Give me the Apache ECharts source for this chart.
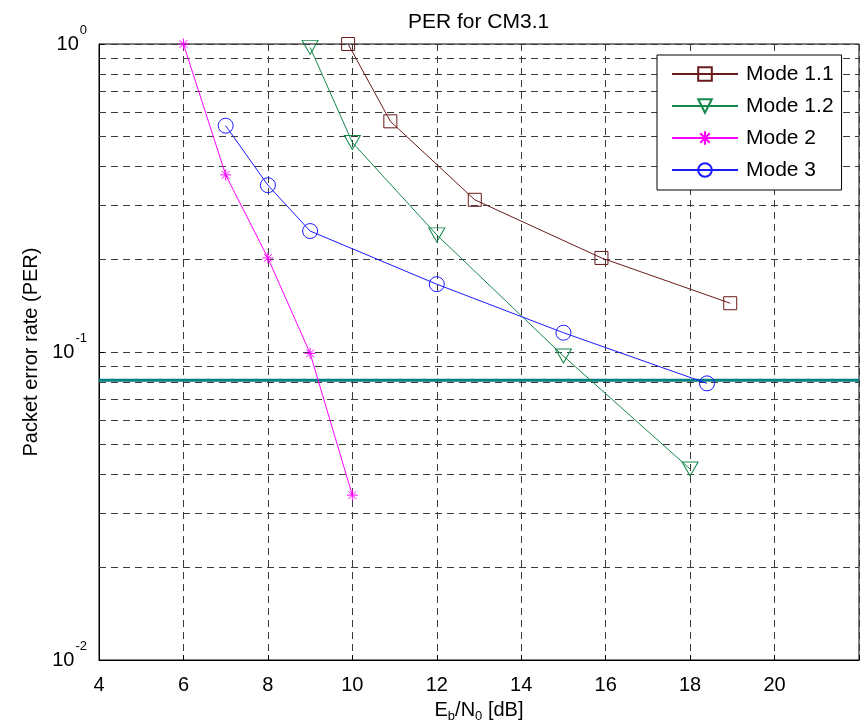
<!DOCTYPE html>
<html>
<head>
<meta charset="utf-8">
<script src="https://cdn.jsdelivr.net/npm/echarts@6/dist/echarts.min.js"></script>
<style>html,body{margin:0;padding:0;background:#fff}#c{width:860px;height:724px}</style>
</head>
<body>
<div id="c"></div>
<script>
// ---- data ----
const mode11X = [9.9, 10.9, 12.9, 15.9, 18.95];
const mode11Y = [1.0, 0.561, 0.312, 0.202, 0.144];
const mode12X = [9, 10, 12, 15, 18];
const mode12Y = [0.975, 0.479, 0.24, 0.097, 0.0417];
const mode2X = [6, 7, 8, 9, 10];
const mode2Y = [1.0, 0.376, 0.202, 0.099, 0.0343];
const mode3X = [7, 8, 9, 12, 15, 18.4];
const mode3Y = [0.543, 0.348, 0.247, 0.166, 0.1155, 0.0791];
const thresholdY = 0.081;
const xRange = [4, 22];
const minorGridY = [0.02,0.03,0.04,0.05,0.06,0.07,0.08,0.09,0.2,0.3,0.4,0.5,0.6,0.7,0.8,0.9];
const seriesNames = ['Mode 1.1', 'Mode 1.2', 'Mode 2', 'Mode 3'];

const FONT = 'Liberation Sans, Arial, sans-serif';
const GRIDCOL = '#3a3a3a';
function pts(xs, ys){ return xs.map((x,i)=>[x, ys[i]]); }

const chart = echarts.init(document.getElementById('c'), null, {renderer:'canvas'});
const star = 'path://M5,0L5,10M0,5L10,5M1.5,1.5L8.5,8.5M1.5,8.5L8.5,1.5';

function lineSeries(name, data, color, symbol, size, rotate){
  return {
    name, type:'line', data, symbol, symbolSize:size, symbolRotate: rotate||0,
    showAllSymbol:true, z:3,
    lineStyle:{color, width:1},
    itemStyle:{color:'rgba(0,0,0,0)', borderColor:color, borderWidth:1},
    emphasis:{disabled:true}
  };
}

const option = {
  animation:false,
  backgroundColor:'#fff',
  title:{text:'PER for CM3.1', left:403, top:7,
    textStyle:{fontFamily:FONT, fontSize:21, fontWeight:'normal', color:'#000'}},
  grid:{left:99, top:44, right:1, bottom:64, containLabel:false, outerBoundsMode:'none',
    show:true, borderColor:'#000', borderWidth:1, backgroundColor:'transparent'},
  legend:{
    orient:'vertical', left:657, top:55, data:seriesNames, z:10,
    itemWidth:66, itemHeight:17, itemGap:10,
    padding:[8,8,9,14],
    borderColor:'#000', borderWidth:1, backgroundColor:'#fff',
    textStyle:{fontFamily:FONT, fontSize:21, color:'#000', lineHeight:22, padding:[0,0,0,3]},
    selectedMode:false
  },
  xAxis:{
    type:'value', min:xRange[0], max:xRange[1], interval:2,
    name:'{n|E}{s|b}{n|/N}{s|0}{n| [dB]}', nameLocation:'middle', nameGap:37,
    nameTextStyle:{rich:{
      n:{fontFamily:FONT, fontSize:20, color:'#000'},
      s:{fontFamily:FONT, fontSize:13, color:'#000', padding:[13,0,0,0]}
    }},
    axisLine:{show:true, lineStyle:{color:'#000', width:1}},
    axisTick:{show:true, inside:true, length:5, lineStyle:{color:'#000'}},
    axisLabel:{fontFamily:FONT, fontSize:20, color:'#000', margin:15,
      formatter: v => (v === xRange[1] ? '' : String(v))},
    splitLine:{show:true, lineStyle:{color:GRIDCOL, type:[7,5], width:1}}
  },
  yAxis:{
    type:'log', logBase:10, min:0.01, max:1,
    name:'Packet error rate (PER)', nameLocation:'middle', nameGap:57, nameRotate:90,
    nameTextStyle:{fontFamily:FONT, fontSize:20, color:'#000'},
    axisLine:{show:true, lineStyle:{color:'#000', width:1}},
    axisTick:{show:true, inside:true, length:5, lineStyle:{color:'#000'}},
    axisLabel:{margin:12,
      formatter: v => '{b|10}{s|' + Math.round(Math.log10(v)) + '}',
      rich:{
        b:{fontFamily:FONT, fontSize:20, color:'#000'},
        s:{fontFamily:FONT, fontSize:13, color:'#000', padding:[0,0,27,1]}
      }},
    splitLine:{show:true, lineStyle:{color:GRIDCOL, type:[7,5], width:1}}
  },
  series:[
    {
      name:'threshold', type:'line', data:[[xRange[0], thresholdY],[xRange[1], thresholdY]],
      symbol:'none', z:2, lineStyle:{color:'#008080', width:3}, silent:true,
      markLine:{silent:true, symbol:'none', z:1, label:{show:false}, animation:false,
        lineStyle:{color:GRIDCOL, type:[7,5], width:1},
        data: minorGridY.map(v=>({yAxis:v}))}
    },
    lineSeries(seriesNames[0], pts(mode11X, mode11Y), '#6a1a1a', 'rect', 13),
    lineSeries(seriesNames[1], pts(mode12X, mode12Y), '#138a4a', 'triangle', [16,14], 180),
    lineSeries(seriesNames[2], pts(mode2X, mode2Y), '#ff00ff', star, 11),
    lineSeries(seriesNames[3], pts(mode3X, mode3Y), '#1a1aff', 'circle', 15)
  ]
};
chart.setOption(option);
</script>
</body>
</html>
